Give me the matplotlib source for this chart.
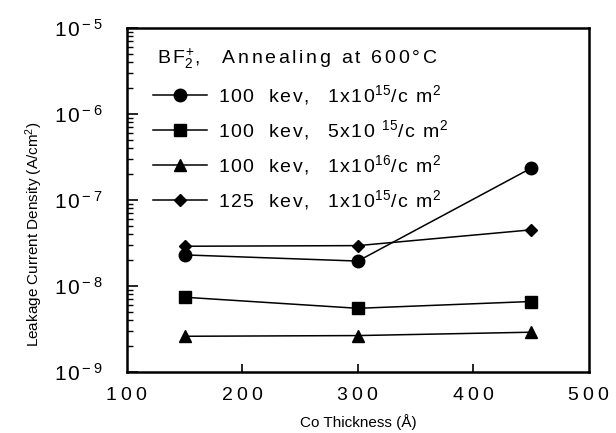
import math
import matplotlib
matplotlib.use('Agg')
import matplotlib.pyplot as plt
from matplotlib.ticker import FixedLocator, LogLocator, NullFormatter, FuncFormatter

plt.rcParams['font.family'] = ['Liberation Sans', 'DejaVu Sans']
plt.rcParams['mathtext.fontset'] = 'custom'
plt.rcParams['mathtext.rm'] = 'Liberation Sans'
plt.rcParams['mathtext.it'] = 'Liberation Sans'
plt.rcParams['mathtext.bf'] = 'Liberation Sans:bold'

# Co thickness (A)
thickness = [150, 300, 450]

# leakage current density (A/cm^2)
j_100_1e15 = [2.3e-8, 1.95e-8, 2.35e-7]
j_100_5e15 = [7.4e-9, 5.5e-9, 6.6e-9]
j_100_1e16 = [2.6e-9, 2.65e-9, 2.9e-9]
j_125_1e15 = [2.9e-8, 2.95e-8, 4.5e-8]

x_ticks = [100, 200, 300, 400, 500]
y_ticks = [1e-9, 1e-8, 1e-7, 1e-6, 1e-5]


def tr(s, gap=r'\hspace{0.09}'):
    # a bit of letter spacing, like the old typeset figure
    return gap.join(r'\ ' if c == ' ' else c for c in s)


def dose_label(kev, mant, exp):
    return ('$' + tr(kev + '  kev,  ' + mant) + '^{' + tr(exp) + '}'
            + tr('/c m') + '^{2}$')


labels = [dose_label('100', '1x10', '15'),
          dose_label('100', '5x10 ', '15'),
          dose_label('100', '1x10', '16'),
          dose_label('125', '1x10', '15')]

fig = plt.figure(figsize=(6.16, 4.33), dpi=100)
ax = fig.add_axes([0.206, 0.141, 0.750, 0.794])

series = [j_100_1e15, j_100_5e15, j_100_1e16, j_125_1e15]
markers = ['o', 's', '^', 'D']
sizes = [9, 8, 8.5, 6.5]
for vals, m, ms, lab in zip(series, markers, sizes, labels):
    ax.plot(thickness, vals, color='black', lw=1.1, marker=m, ms=ms, label=lab)

ax.set_yscale('log')
ax.set_xlim(100, 500)
ax.set_ylim(1e-9, 1e-5)

ax.xaxis.set_major_locator(FixedLocator([200, 300, 400]))
ax.tick_params(axis='x', which='major', direction='in', length=6, width=1.2,
               top=False, labelbottom=False)
for xv in x_ticks:
    ax.text(xv, -0.045, '$' + tr(str(xv), r'\;') + '$',
            transform=ax.get_xaxis_transform(), ha='center', va='top', fontsize=14)

ax.yaxis.set_major_locator(FixedLocator(y_ticks))
ax.yaxis.set_minor_locator(LogLocator(base=10, subs=range(2, 10), numticks=10))
ax.yaxis.set_minor_formatter(NullFormatter())
ax.yaxis.set_major_formatter(FuncFormatter(
    lambda v, p: '$1\\hspace{0.12}0^{\\,\\mathrm{-}\\;%d}$' % round(-math.log10(v))))
ax.tick_params(axis='y', which='major', direction='in', length=8, width=1.2,
               right=False, labelsize=15, pad=17)
ax.tick_params(axis='y', which='minor', direction='in', length=4, width=1.0,
               right=False)

for s in ax.spines.values():
    s.set_linewidth(1.8)

ax.set_xlabel('Co Thickness (Å)', fontsize=11, labelpad=30)
ax.set_ylabel('Leakage Current Density (A/cm$^{2}$)', fontsize=11)
ax.yaxis.set_label_coords(-0.177, 0.40)

title = '$' + tr('BF', r'\,') + '_{2}^{+}' + tr(',  Annealing at 600°C', r'\,') + '$'
ax.text(0.065, 0.91, title, transform=ax.transAxes, fontsize=14,
        va='center', ha='left')

ax.legend(loc='upper left', bbox_to_anchor=(0.026, 0.88), frameon=False,
          fontsize=14, handlelength=2.8, handletextpad=0.55,
          labelspacing=0.58, borderaxespad=0.3)

fig.savefig('out.png', dpi=100)
